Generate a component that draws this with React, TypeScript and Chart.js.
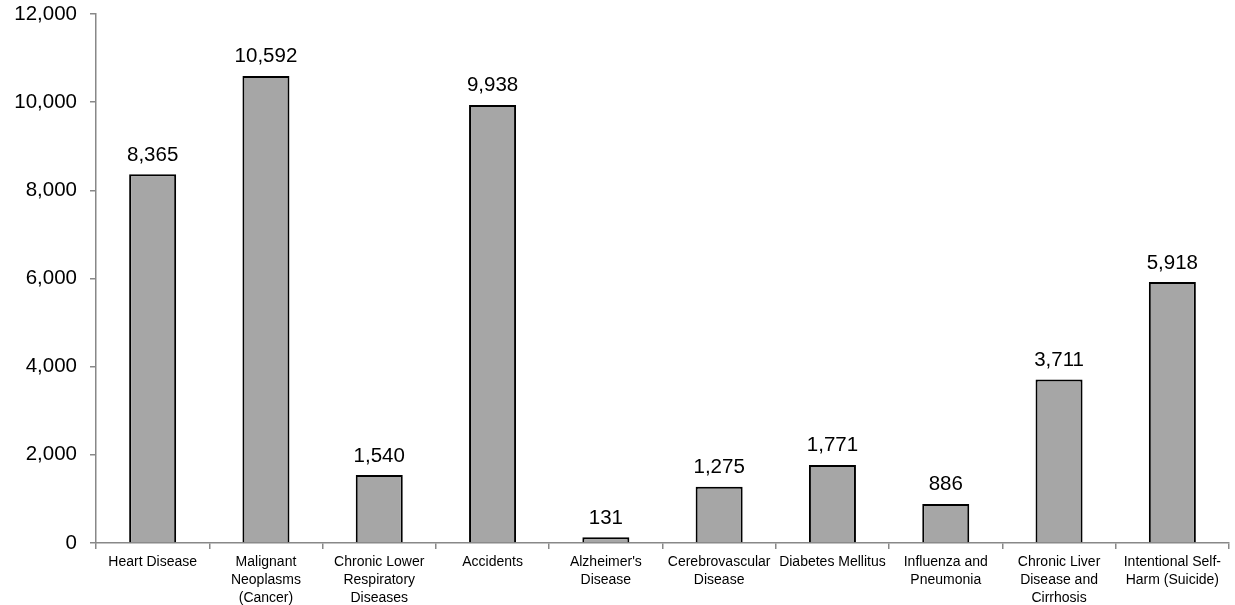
import React, { useEffect, useRef } from "react";
import { Chart, registerables } from "chart.js";

Chart.register(...registerables);

const categories: (string | string[])[] = [
  "Heart Disease",
  ["Malignant", "Neoplasms", "(Cancer)"],
  ["Chronic Lower", "Respiratory", "Diseases"],
  "Accidents",
  ["Alzheimer's", "Disease"],
  ["Cerebrovascular", "Disease"],
  "Diabetes Mellitus",
  ["Influenza and", "Pneumonia"],
  ["Chronic Liver", "Disease and", "Cirrhosis"],
  ["Intentional Self-", "Harm (Suicide)"],
];
const deaths: number[] = [8365, 10592, 1540, 9938, 131, 1275, 1771, 886, 3711, 5918];
const yMin = 0;
const yMax = 12000;
const yStep = 2000;

const FONT = "'Liberation Sans', Arial, sans-serif";

const valueLabels = {
  id: "valueLabels",
  afterDatasetsDraw(chart: any) {
    const ctx = chart.ctx;
    const meta = chart.getDatasetMeta(0);
    ctx.save();
    ctx.font = `20.5px ${FONT}`;
    ctx.fillStyle = "#000";
    ctx.textAlign = "center";
    ctx.textBaseline = "bottom";
    meta.data.forEach((bar: any, i: number) => {
      const v = chart.data.datasets[0].data[i] as number;
      ctx.fillText(v.toLocaleString("en-US"), bar.x, bar.y - 9);
    });
    ctx.restore();
  },
};

export default function App() {
  const ref = useRef<HTMLCanvasElement>(null);
  useEffect(() => {
    document.body.style.margin = "0";
    const chart = new Chart(ref.current!, {
      type: "bar",
      data: {
        labels: categories,
        datasets: [
          {
            data: deaths,
            backgroundColor: "#a6a6a6",
            borderColor: "#000",
            borderWidth: 2,
            barPercentage: 0.415,
            categoryPercentage: 1,
          },
        ],
      },
      options: {
        animation: false,
        responsive: false,
        maintainAspectRatio: false,
        layout: { padding: { top: 14, right: 6, left: 0, bottom: 0 } },
        plugins: { legend: { display: false }, tooltip: { enabled: false } },
        scales: {
          x: {
            grid: { display: true, drawOnChartArea: false, offset: true, tickLength: 6, color: "#888", lineWidth: 1.5 },
            border: { color: "#888", width: 1.5 },
            ticks: {
              color: "#000",
              font: { family: FONT, size: 14, lineHeight: 1.28 },
              padding: 4,
              maxRotation: 0,
              autoSkip: false,
            },
            afterFit: (s: any) => {
              s.height = 605 - 543;
              s.paddingLeft = 0;
              s.paddingRight = 0;
            },
          },
          y: {
            min: yMin,
            max: yMax,
            grid: { display: true, drawOnChartArea: false, tickLength: 6, color: "#888", lineWidth: 1.5 },
            border: { color: "#888", width: 1.5 },
            ticks: {
              stepSize: yStep,
              color: "#000",
              font: { family: FONT, size: 20.5 },
              padding: 13,
              callback: (v: any) => Number(v).toLocaleString("en-US"),
            },
            afterFit: (s: any) => {
              s.width = 96;
              s.paddingTop = 0;
              s.paddingBottom = 0;
            },
          },
        },
      },
      plugins: [valueLabels],
    });
    return () => chart.destroy();
  }, []);
  return (
    <div style={{ width: 1235, height: 605 }}>
      <canvas ref={ref} width={1235} height={605} style={{ width: 1235, height: 605, display: "block" }} />
    </div>
  );
}
